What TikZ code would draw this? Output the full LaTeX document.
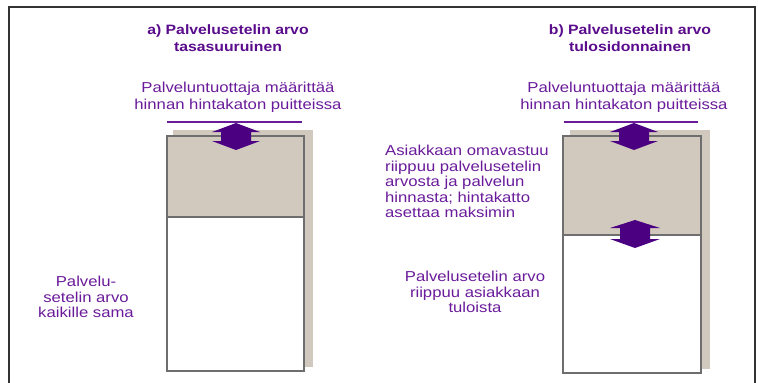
\documentclass[tikz,border=0pt]{standalone}
\usepackage{fontspec}
\setmainfont[FakeStretch=1.16]{Liberation Sans}
\definecolor{txtpurple}{HTML}{6A1B9A}
\definecolor{titlepurple}{HTML}{5A0C8C}
\definecolor{arrowpurple}{HTML}{4B0082}
\definecolor{beige}{HTML}{D1C9BE}
\definecolor{boxgray}{HTML}{6E6E6E}
\definecolor{framegray}{HTML}{333333}
\tikzset{
  bodytext/.style={text=txtpurple, font=\fontsize{14.4}{15.4}\selectfont, inner sep=0pt},
  toptext/.style={text=txtpurple, font=\fontsize{14.4}{17}\selectfont, inner sep=0pt, align=center},
  titletext/.style={text=titlepurple, font=\fontsize{13.6}{17}\selectfont\bfseries, inner sep=0pt, align=center},
  shadowbox/.style={fill=beige, draw=none},
  mainbox/.style={draw=boxgray, line width=1.5pt},
  capline/.style={draw=txtpurple, line width=2pt},
  dblarrow/.style={fill=arrowpurple, draw=none}
}
\begin{document}
\begin{tikzpicture}[x=1pt,y=-1pt]
\useasboundingbox (0,0) rectangle (758,383);
% frame
\draw[framegray, line width=2.5pt] (9,383) -- (9,7) -- (755,7) -- (755,383);

% titles
\node[titletext] (ta) at (228,38.5) {a) Palvelusetelin arvo\\tasasuuruinen};
\node[titletext] (tb) at (630,38.5) {b) Palvelusetelin arvo\\tulosidonnainen};

% ---- left diagram ----
\fill[shadowbox] (173,130) rectangle (313,367);
\fill[white] (167,136) rectangle (304,371);
\fill[beige] (167,136) rectangle (304,217);
\draw[mainbox] (167,136) rectangle (304,371);
\draw[mainbox] (167,217) -- (304,217);
\draw[capline] (167,122) -- (302,122);
\fill[dblarrow] (236,123) -- (260,132) -- (251,132) -- (251,141) -- (260,141) -- (236,150)
  -- (212,141) -- (221,141) -- (221,132) -- (212,132) -- cycle;
\node[toptext] (pa) at (238,97.5) {Palveluntuottaja määrittää\\hinnan hintakaton puitteissa};
\node[bodytext, align=center] (va) at (86,297) {Palvelu-\\setelin arvo\\kaikille sama};

% ---- right diagram ----
\fill[shadowbox] (570,130) rectangle (710,369);
\fill[white] (563,136) rectangle (701,373);
\fill[beige] (563,136) rectangle (701,235);
\draw[mainbox] (563,136) rectangle (701,373);
\draw[mainbox] (563,235) -- (701,235);
\draw[capline] (564,122) -- (698,122);
\fill[dblarrow] (634,123) -- (658,132) -- (649,132) -- (649,141) -- (658,141) -- (634,150)
  -- (610,141) -- (619,141) -- (619,132) -- (610,132) -- cycle;
\fill[dblarrow] (635,220) -- (660,228) -- (650,228) -- (650,239) -- (660,239) -- (635,248)
  -- (610,239) -- (620,239) -- (620,228) -- (610,228) -- cycle;
\node[toptext] (pb) at (624,97.5) {Palveluntuottaja määrittää\\hinnan hintakaton puitteissa};
\node[bodytext, align=left, anchor=west] (ob) at (385,181.5) {Asiakkaan omavastuu\\riippuu palvelusetelin\\arvosta ja palvelun\\hinnasta; hintakatto\\asettaa maksimin};
\node[bodytext, align=center] (vb) at (475,292) {Palvelusetelin arvo\\riippuu asiakkaan\\tuloista};
\end{tikzpicture}
\end{document}
